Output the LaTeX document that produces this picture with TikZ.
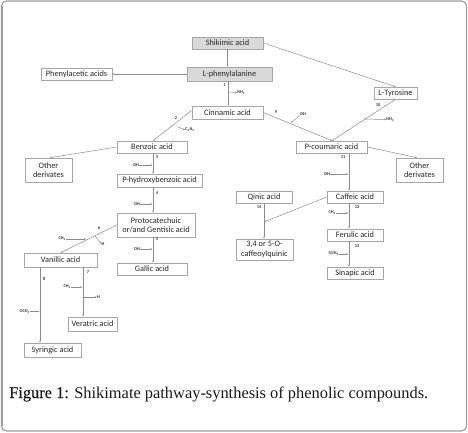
\documentclass[tikz,border=0pt]{standalone}
\usepackage{fontspec}
\setmainfont{Liberation Serif}
\setsansfont{Carlito}
\newfontfamily\capsemi[FakeBold=0.3]{Liberation Serif}
\usetikzlibrary{arrows.meta}
\definecolor{boxline}{HTML}{A6A6A6}
\definecolor{boxfill}{HTML}{D9D9D9}
\definecolor{conn}{HTML}{8C8C8C}
\definecolor{frame}{HTML}{A0A0A0}
\begin{document}
\begin{tikzpicture}[x=1pt,y=-1pt,
  box/.style={draw=boxline,line width=0.6pt,inner sep=0pt,align=center,font=\sffamily\fontsize{8.3}{9.2}\selectfont,text=black!85},
  gbox/.style={box,fill=boxfill},
  conline/.style={draw=conn,line width=0.5pt,-{Stealth[length=2.2pt,width=1.8pt]}},
  tag/.style={inner sep=0pt,font=\sffamily\bfseries\fontsize{4.4}{4.4}\selectfont,text=black!80},
]
\useasboundingbox (0,0) rectangle (468,432);
\draw[frame,line width=1.2pt,rounded corners=5pt] (1.5,1) rectangle (466.5,431);
\draw[frame,line width=2pt] (1.5,6) -- (1.5,426);

% boxes
\node[gbox,minimum width=71pt,minimum height=12pt] (shik) at (227.5,43) {Shikimic acid};
\node[gbox,minimum width=85pt,minimum height=14pt] (lphe) at (229.5,74) {L-phenylalanine};
\node[box,minimum width=71pt,minimum height=12pt] (phen) at (76.5,74) {Phenylacetic acids};
\node[box,minimum width=71pt,minimum height=13pt] (cinn) at (227.5,112.5) {Cinnamic acid};
\node[box,minimum width=70pt,minimum height=12pt] (benz) at (152,147) {Benzoic acid};
\node[box,minimum width=47pt,minimum height=24pt] (othL) at (48.5,170) {Other\\derivates};
\node[box,minimum width=85pt,minimum height=13pt] (phyd) at (159.5,180.5) {P-hydroxybenzoic acid};
\node[box,minimum width=78pt,minimum height=24pt] (prot) at (156,225) {Protocatechuic\\or/and Gentisic acid};
\node[box,minimum width=70pt,minimum height=12pt] (gall) at (152,269) {Gallic acid};
\node[box,minimum width=73pt,minimum height=14pt] (vani) at (60.5,260) {Vanillic acid};
\node[box,minimum width=57pt,minimum height=14pt] (syri) at (52.5,350) {Syringic acid};
\node[box,minimum width=49pt,minimum height=14pt] (vera) at (92.5,324) {Veratric acid};
\node[box,minimum width=43pt,minimum height=12pt] (ltyr) at (395.5,93) {L-Tyrosine};
\node[box,minimum width=71pt,minimum height=12pt] (pcou) at (331.5,147) {P-coumaric acid};
\node[box,minimum width=47pt,minimum height=24pt] (othR) at (419.5,170) {Other\\derivates};
\node[box,minimum width=56pt,minimum height=12pt] (caff) at (355,197) {Caffeic acid};
\node[box,minimum width=56pt,minimum height=12pt] (qini) at (264,197) {Qinic acid};
\node[box,minimum width=57pt,minimum height=21pt] (caq) at (264.5,249.5) {3,4 or 5-O-\\caffeoylquinic};
\node[box,minimum width=56pt,minimum height=12pt] (feru) at (355,235) {Ferulic acid};
\node[box,minimum width=56pt,minimum height=12pt] (sina) at (355,273) {Sinapic acid};

% main connectors
\draw[conline] (shik.south) -- (shik.south |- lphe.north);
\draw[conline] (lphe.west) -- (phen.east);
\draw[conline] (lphe.south -| shik.south) ++(1,0) coordinate (a1) -- (a1 |- cinn.north);
\draw[conline] (cinn.west) ++(0,-2) coordinate (c2) -- ([xshift=1pt]benz.north);
\draw[conline] (benz.west) -- ([xshift=1.5pt]othL.north);
\coordinate (v3) at (153,153);
\draw[conline] (v3) -- (v3 |- phyd.north);
\coordinate (v4) at (153,187);
\draw[conline] (v4) -- (v4 |- prot.north);
\coordinate (v5) at (153,237);
\draw[conline] (v5) -- (v5 |- gall.north);
\draw[conline] (prot.west) -- (vani.north);
\coordinate (v8) at (40,267);
\draw[conline] (v8) -- (v8 |- syri.north);
\coordinate (v7) at (83,267);
\draw[conline] (v7) -- (v7 |- vera.north);
\draw[conline] (shik.east) -- (ltyr.north);
\draw[conline] (ltyr.south) -- ([xshift=0.5pt]pcou.north);
\draw[conline] (cinn.east) -- ([xshift=0.5pt]pcou.north);
\draw[conline] (pcou.east) -- ([xshift=-2.5pt]othR.north);
\coordinate (v11) at (349,153);
\draw[conline] (v11) -- (v11 |- caff.north);
\coordinate (v14) at (264,203);
\draw[conline] (v14) -- (v14 |- caq.north);
\coordinate (j14) at (264,222);
\draw[conline] (caff.west) -- (j14);
\coordinate (v12) at (349,203);
\draw[conline] (v12) -- (v12 |- feru.north);
\coordinate (v13) at (349,241);
\draw[conline] (v13) -- (v13 |- sina.north);

% step labels
\node[tag] (n1) at (224.5,85) {1};
\node[tag] (n2) at (176,118) {2};
\node[tag] (n3) at (157,157) {3};
\node[tag] (n4) at (157,193) {4};
\node[tag] (n5) at (157,239.5) {5};
\node[tag] (n6) at (99,228) {6};
\node[tag] (n7) at (88,272) {7};
\node[tag] (n8) at (44,279) {8};
\node[tag] (n9) at (276,112) {9};
\node[tag] (n10) at (378,105) {10};
\node[tag] (n11) at (343,157) {11};
\node[tag] (n12) at (357,207) {12};
\node[tag] (n13) at (357,246) {13};
\node[tag] (n14) at (259,207) {14};

% side groups
\coordinate (s1) at (229,92);
\node[tag,anchor=west] (nh3a) at (237,92.5) {NH\textsubscript{3}};
\draw[conline] (s1) -- (nh3a.west);

\coordinate (s2) at (178,127);
\node[tag,anchor=west] (c2h4) at (185,130) {C\textsubscript{2}H\textsubscript{4}};
\draw[conline] (s2) -- (c2h4.west);

\node[tag,anchor=east] (oh3) at (139,165) {OH};
\draw[conline] (oh3.east) -- (152.5,165);
\node[tag,anchor=east] (oh4) at (140,204) {OH};
\draw[conline] (oh4.east) -- (152.5,204);
\node[tag,anchor=east] (oh5) at (140,249) {OH};
\draw[conline] (oh5.east) -- (152.5,249);

\node[tag,anchor=east] (ch36) at (66,239) {CH\textsubscript{3}};
\coordinate (e6) at (86,239);
\draw[conline] (ch36.east) -- (e6);
\coordinate (s6) at (95,236);
\node[tag,anchor=west] (h6) at (101.5,244) {H};
\draw[conline] (s6) -- (h6.west);

\node[tag,anchor=east] (och38) at (30,311.5) {OCH\textsubscript{3}};
\draw[conline] (och38.east) -- (39.5,311.5);

\node[tag,anchor=east] (ch37) at (71,287) {CH\textsubscript{3}};
\draw[conline] (ch37.east) -- (82.5,287);
\coordinate (s7) at (83,297);
\node[tag,anchor=west] (h7) at (97,297) {H};
\draw[conline] (s7) -- (h7.west);

\coordinate (s10) at (363.5,119);
\node[tag,anchor=west] (nh3b) at (386,119.5) {NH\textsubscript{3}};
\draw[conline] (s10) -- (nh3b.west);

\node[tag,anchor=west] (oh9) at (300,114) {OH};
\coordinate (e9) at (291,122.5);
\draw[conline] (oh9.south west) -- (e9);

\node[tag,anchor=east] (oh11) at (330,174) {OH};
\draw[conline] (oh11.east) -- (348.5,174);
\node[tag,anchor=east] (ch312) at (336,213) {CH\textsubscript{3}};
\draw[conline] (ch312.east) -- (348.5,213);
\node[tag,anchor=east] (och313) at (339,254) {OCH\textsubscript{3}};
\draw[conline] (och313.east) -- (348.5,254);

% caption
\node[anchor=west,inner sep=0pt,font=\fontsize{16.4}{18}\selectfont,text=black!90] (cap) at (9,394) {{\capsemi Figure 1:} Shikimate pathway-synthesis of phenolic compounds.};
\end{tikzpicture}
\end{document}
